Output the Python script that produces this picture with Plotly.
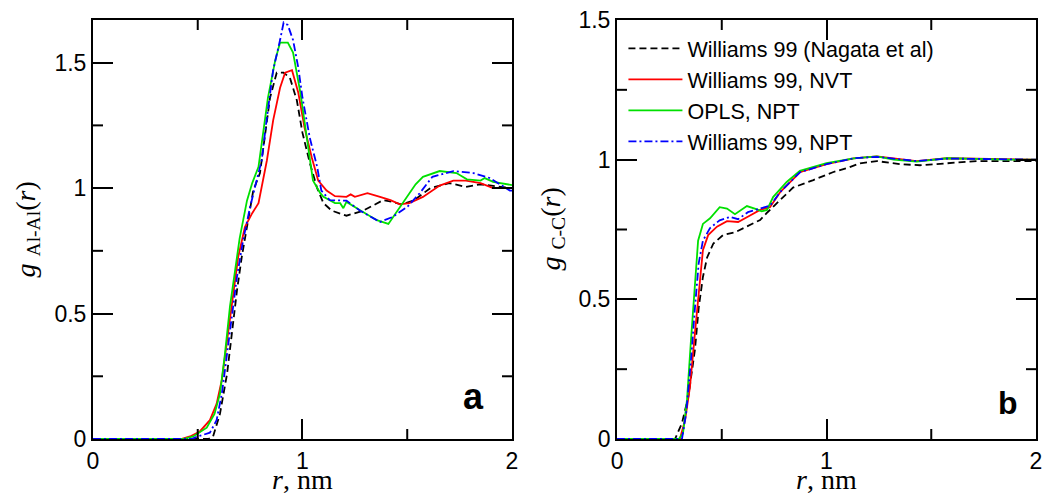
import plotly.graph_objects as go

# ---------------- Panel a: g_Al-Al(r) ----------------
r_a_nagata = [0, 0.55, 0.573, 0.606, 0.64, 0.663, 0.687, 0.71, 0.74, 0.765, 0.797, 0.82, 0.845, 0.877, 0.91,
              0.94, 0.973, 1.0, 1.035, 1.07, 1.10, 1.14, 1.21, 1.29, 1.385, 1.43, 1.47, 1.53, 1.61, 1.70,
              1.78, 1.85, 1.94, 2.0]
g_a_nagata = [0, 0, 0.01, 0.10, 0.26, 0.43, 0.59, 0.725, 0.87, 0.99, 1.06, 1.20, 1.36, 1.46, 1.46,
              1.44, 1.35, 1.22, 1.10, 1.0, 0.94, 0.91, 0.89, 0.91, 0.952, 0.945, 0.935, 0.95, 1.0, 1.02,
              1.005, 1.015, 1.005, 1.0]

r_a_nvt = [0, 0.42, 0.463, 0.51, 0.558, 0.59, 0.615, 0.64, 0.67, 0.693, 0.725, 0.76, 0.79, 0.83, 0.86,
           0.893, 0.917, 0.95, 0.98, 1.01, 1.045, 1.075, 1.115, 1.155, 1.21, 1.23, 1.25, 1.31, 1.37, 1.42,
           1.465, 1.51, 1.575, 1.655, 1.72, 1.78, 1.85, 1.91, 2.0]
g_a_nvt = [0, 0, 0.01, 0.03, 0.075, 0.14, 0.235, 0.39, 0.59, 0.725, 0.845, 0.90, 0.94, 1.11, 1.27,
           1.40, 1.46, 1.47, 1.38, 1.24, 1.12, 1.03, 0.99, 0.968, 0.965, 0.975, 0.965, 0.98, 0.965, 0.952,
           0.935, 0.94, 0.965, 1.01, 1.03, 1.03, 1.02, 1.0, 1.0]

r_a_opls = [0, 0.43, 0.478, 0.543, 0.58, 0.606, 0.63, 0.654, 0.678, 0.70, 0.735, 0.76, 0.79, 0.81, 0.835,
            0.87, 0.893, 0.93, 0.955, 0.99, 1.02, 1.05, 1.085, 1.10, 1.155, 1.18, 1.195, 1.21, 1.275, 1.355,
            1.41, 1.48, 1.54, 1.575, 1.655, 1.735, 1.785, 1.85, 1.87, 1.91, 2.0]
g_a_opls = [0, 0, 0.01, 0.045, 0.10, 0.18, 0.34, 0.53, 0.67, 0.80, 0.95, 1.02, 1.085, 1.20, 1.36,
            1.51, 1.58, 1.58, 1.54, 1.38, 1.20, 1.03, 0.98, 0.965, 0.94, 0.94, 0.92, 0.945, 0.912, 0.872,
            0.857, 0.94, 1.015, 1.045, 1.068, 1.06, 1.035, 1.03, 1.04, 1.025, 1.012]

r_a_npt = [0, 0.47, 0.50, 0.558, 0.59, 0.615, 0.64, 0.663, 0.687, 0.716, 0.75, 0.778, 0.805, 0.83, 0.86,
           0.893, 0.91, 0.93, 0.955, 0.98, 1.0, 1.035, 1.07, 1.09, 1.13, 1.21, 1.275, 1.37, 1.43, 1.50,
           1.56, 1.62, 1.72, 1.815, 1.895, 1.99, 2.0]
g_a_npt = [0, 0, 0.01, 0.025, 0.075, 0.18, 0.34, 0.50, 0.645, 0.79, 0.925, 1.02, 1.11, 1.28, 1.47,
           1.59, 1.66, 1.65, 1.59, 1.48, 1.36, 1.20, 1.085, 0.99, 0.952, 0.95, 0.91, 0.865, 0.885, 0.925,
           0.98, 1.045, 1.068, 1.06, 1.04, 0.99, 0.99]

# ---------------- Panel b: g_C-C(r) ----------------
r_b_nagata = [0, 0.277, 0.31, 0.34, 0.372, 0.39, 0.41, 0.43, 0.46, 0.506, 0.563, 0.62, 0.683, 0.716,
              0.78, 0.84, 0.937, 1.03, 1.11, 1.16, 1.24, 1.35, 1.446, 1.575, 1.72, 1.86, 2.0]
g_b_nagata = [0, 0, 0.057, 0.15, 0.32, 0.47, 0.58, 0.65, 0.70, 0.73, 0.74, 0.76, 0.784, 0.81,
              0.855, 0.90, 0.927, 0.955, 0.973, 0.987, 0.995, 0.984, 0.98, 0.988, 0.995, 0.995, 0.995]

r_b_nvt = [0, 0.30, 0.325, 0.348, 0.372, 0.396, 0.41, 0.435, 0.477, 0.525, 0.578, 0.635, 0.683, 0.73,
           0.78, 0.873, 1.0, 1.13, 1.24, 1.32, 1.43, 1.575, 1.72, 1.86, 2.0]
g_b_nvt = [0, 0, 0.068, 0.186, 0.38, 0.57, 0.676, 0.73, 0.76, 0.78, 0.777, 0.80, 0.82, 0.83,
           0.885, 0.955, 0.984, 1.005, 1.012, 1.005, 0.995, 1.005, 1.003, 1.0, 1.0]

r_b_opls = [0, 0.295, 0.315, 0.334, 0.353, 0.372, 0.387, 0.41, 0.444, 0.49, 0.525, 0.563, 0.62, 0.668,
            0.69, 0.716, 0.745, 0.81, 0.873, 1.0, 1.13, 1.24, 1.32, 1.43, 1.575, 1.72, 1.86, 2.0]
g_b_opls = [0, 0, 0.02, 0.14, 0.354, 0.558, 0.71, 0.77, 0.79, 0.83, 0.825, 0.805, 0.834, 0.822,
            0.815, 0.82, 0.866, 0.92, 0.96, 0.988, 1.005, 1.012, 1.0, 0.993, 1.005, 1.003, 1.0, 1.0]

r_b_npt = [0, 0.31, 0.33, 0.353, 0.372, 0.39, 0.41, 0.444, 0.49, 0.54, 0.578, 0.625, 0.683, 0.73,
           0.78, 0.873, 1.0, 1.13, 1.24, 1.32, 1.43, 1.575, 1.72, 1.86, 2.0]
g_b_npt = [0, 0, 0.093, 0.283, 0.47, 0.63, 0.71, 0.755, 0.783, 0.795, 0.787, 0.812, 0.825, 0.835,
           0.885, 0.955, 0.984, 1.005, 1.01, 1.003, 0.995, 1.004, 1.003, 1.0, 1.0]

series_names = ["Williams 99 (Nagata et al)", "Williams 99, NVT", "OPLS, NPT", "Williams 99, NPT"]
series_colors = ["#000000", "#ff0000", "#00e000", "#0000ff"]
series_dash = ["7px,4px", "solid", "solid", "8px,3px,2px,3px"]

x_tickvals = [0, 1, 2]
x_minor_tickvals = [0.5, 1.5]
y_tickvals = [0, 0.5, 1, 1.5]
y_minor_tickvals = [0.25, 0.75, 1.25]
x_range = [0, 2]
y_range_a = [0, 1.67]
y_range_b = [0, 1.5]

# figure geometry (pixels)
W, H = 1042, 494
M_L, M_R, M_T, M_B = 93, 6, 20, 55
GAP_FRAC = 0.1114
plot_w = (W - M_L - M_R) * (1 - GAP_FRAC) / 2
plot_h = H - M_T - M_B
MAJOR_PX, MINOR_PX = 20, 10

panel_a = [(r_a_nagata, g_a_nagata), (r_a_nvt, g_a_nvt), (r_a_opls, g_a_opls), (r_a_npt, g_a_npt)]
panel_b = [(r_b_nagata, g_b_nagata), (r_b_nvt, g_b_nvt), (r_b_opls, g_b_opls), (r_b_npt, g_b_npt)]

fig = go.Figure()
for i, (xv, yv) in enumerate(panel_a):
    fig.add_trace(go.Scatter(x=xv, y=yv, mode="lines", name=series_names[i], showlegend=False,
                             line=dict(color=series_colors[i], width=1.8, dash=series_dash[i]),
                             xaxis="x", yaxis="y"))
for i, (xv, yv) in enumerate(panel_b):
    fig.add_trace(go.Scatter(x=xv, y=yv, mode="lines", name=series_names[i], showlegend=True,
                             line=dict(color=series_colors[i], width=1.8, dash=series_dash[i]),
                             xaxis="x2", yaxis="y2"))


def add_ticks(xa, ya, yrng):
    """Inward minor tick marks on all four sides at the minor tick values."""
    dx = (x_range[1] - x_range[0]) / plot_w
    dy = (yrng[1] - yrng[0]) / plot_h
    for v in x_minor_tickvals:
        for y0, y1 in ((yrng[0], yrng[0] + MINOR_PX * dy), (yrng[1], yrng[1] - MINOR_PX * dy)):
            fig.add_trace(go.Scatter(x=[v, v], y=[y0, y1], mode="lines",
                                     line=dict(color="black", width=2), showlegend=False,
                                     xaxis=xa, yaxis=ya))
    for v in y_minor_tickvals:
        for x0, x1 in ((x_range[0], x_range[0] + MINOR_PX * dx), (x_range[1], x_range[1] - MINOR_PX * dx)):
            fig.add_trace(go.Scatter(x=[x0, x1], y=[v, v], mode="lines",
                                     line=dict(color="black", width=2), showlegend=False,
                                     xaxis=xa, yaxis=ya))


add_ticks("x", "y", y_range_a)
add_ticks("x2", "y2", y_range_b)

tickfont = dict(family="Liberation Sans, Arial, sans-serif", size=23, color="black")
titlefont = dict(family="Liberation Serif, Times New Roman, serif", size=28, color="black")


def axis(kind, domain, anchor, rng):
    tv = x_tickvals if kind == "x" else y_tickvals
    return dict(domain=domain, anchor=anchor, range=rng,
                tickmode="array", tickvals=tv, ticktext=[("%g" % v) for v in tv],
                ticks="inside", ticklen=MAJOR_PX, tickwidth=1.5, tickcolor="black",
                showline=True, linecolor="black", linewidth=2, mirror="allticks",
                showgrid=False, zeroline=False, tickfont=tickfont, automargin=False,
                ticklabeloverflow="allow")


x2_start = (1 - GAP_FRAC) / 2 + GAP_FRAC
x_titles = [dict(text="<i>r</i>, nm", x=(1 - GAP_FRAC) / 4),
            dict(text="<i>r</i>, nm", x=x2_start + (1 - GAP_FRAC) / 4)]
y_titles = [dict(text="<i>g</i> <sub>Al-Al</sub>(<i>r</i>)", x=-66 / (W - M_L - M_R)),
            dict(text="<i>g</i> <sub>C-C</sub>(<i>r</i>)", x=x2_start - 65 / (W - M_L - M_R))]

annotations = []
for t in x_titles:
    annotations.append(dict(text=t["text"], x=t["x"], y=-40 / plot_h, xref="paper", yref="paper",
                            xanchor="center", yanchor="middle", showarrow=False, font=titlefont))
for t in y_titles:
    annotations.append(dict(text=t["text"], x=t["x"], y=0.5, xref="paper", yref="paper",
                            xanchor="center", yanchor="middle", textangle=-90, showarrow=False,
                            font=titlefont))
annotations += [
    dict(text="<b>a</b>", x=1.815, y=0.17, xref="x", yref="y", showarrow=False,
         font=dict(family="Liberation Sans, Arial, sans-serif", size=36, color="black")),
    dict(text="<b>b</b>", x=1.865, y=0.13, xref="x2", yref="y2", showarrow=False,
         font=dict(family="Liberation Sans, Arial, sans-serif", size=32, color="black")),
]

fig.update_layout(
    width=W, height=H,
    margin=dict(l=M_L, r=M_R, t=M_T, b=M_B, autoexpand=False),
    paper_bgcolor="white", plot_bgcolor="white",
    xaxis=axis("x", [0, (1 - GAP_FRAC) / 2], "y", x_range),
    yaxis=axis("y", [0, 1], "x", y_range_a),
    xaxis2=axis("x", [x2_start, 1], "y2", x_range),
    yaxis2=axis("y", [0, 1], "x2", y_range_b),
    legend=dict(x=0.5625, y=0.981, xanchor="left", yanchor="top", bgcolor="rgba(0,0,0,0)",
                font=dict(family="Liberation Sans, Arial, sans-serif", size=21.5, color="black"),
                itemwidth=54, tracegroupgap=0),
    annotations=annotations,
)

fig.write_html("out.html")
